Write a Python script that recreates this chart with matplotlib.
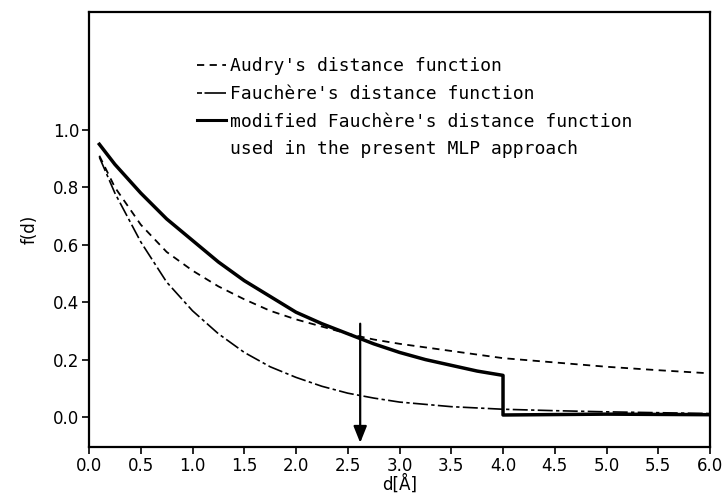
import numpy as np
import matplotlib
matplotlib.use('Agg')
import matplotlib.pyplot as plt
from matplotlib.lines import Line2D

# distance values
d_audry = [0.1, 0.25, 0.5, 0.75, 1.0, 1.25, 1.5, 1.75, 2.0, 2.25, 2.5, 2.75, 3.0, 3.5, 4.0, 4.5, 5.0, 5.5, 6.0]
f_audry = [0.91, 0.80, 0.67, 0.575, 0.51, 0.455, 0.41, 0.37, 0.34, 0.315, 0.29, 0.27, 0.255, 0.23, 0.205, 0.19, 0.175, 0.163, 0.152]

d_fauchere = [0.1, 0.25, 0.5, 0.75, 1.0, 1.25, 1.5, 1.75, 2.0, 2.25, 2.5, 2.75, 3.0, 3.5, 4.0, 4.5, 5.0, 5.5, 6.0]
f_fauchere = [0.905, 0.78, 0.61, 0.47, 0.37, 0.29, 0.225, 0.175, 0.138, 0.107, 0.083, 0.066, 0.052, 0.036, 0.027, 0.022, 0.018, 0.015, 0.012]

d_modified = [0.1, 0.25, 0.5, 0.75, 1.0, 1.25, 1.5, 1.75, 2.0, 2.25, 2.5, 2.75, 3.0, 3.25, 3.5, 3.75, 4.0, 4.0, 5.0, 6.0]
f_modified = [0.95, 0.88, 0.78, 0.69, 0.615, 0.54, 0.475, 0.42, 0.365, 0.325, 0.29, 0.255, 0.225, 0.2, 0.18, 0.16, 0.145, 0.007, 0.01, 0.008]

arrow_d = 2.62
arrow_top = 0.325

labels = ["Audry's distance function",
          "Fauchère's distance function",
          "modified Fauchère's distance function",
          "used in the present MLP approach"]

plt.rcParams['font.family'] = ['DejaVu Sans']

fig = plt.figure(figsize=(7.26, 4.97), dpi=100)
ax = fig.add_axes([0.1226, 0.1006, 0.8554, 0.8754])

ax.plot(d_audry, f_audry, color='black', lw=1.3, dashes=(4, 3))
ax.plot(d_fauchere, f_fauchere, color='black', lw=1.2, dashes=(9, 2, 2, 2))
ax.plot(d_modified, f_modified, color='black', lw=2.5)

ax.annotate('', xy=(arrow_d, -0.09), xytext=(arrow_d, arrow_top),
            arrowprops=dict(arrowstyle='-|>,head_length=1.0,head_width=0.4',
                            color='black', lw=1.6, shrinkA=0, shrinkB=0))

ax.set_xlim(0, 6)
ax.set_ylim(-0.1045, 1.411)
ax.set_xticks(np.arange(0, 6.01, 0.5))
ax.set_yticks(np.arange(0, 1.01, 0.2))
ax.set_xticklabels([f'{v:.1f}' for v in np.arange(0, 6.01, 0.5)])
ax.set_yticklabels([f'{v:.1f}' for v in np.arange(0, 1.01, 0.2)])
ax.tick_params(direction='out', length=5, width=1.2, labelsize=12, pad=2)
for s in ax.spines.values():
    s.set_linewidth(1.6)

ax.set_xlabel('d[Å]', fontsize=12, labelpad=0)
ax.set_ylabel('f(d)', fontsize=12, labelpad=10)

handles = [Line2D([], [], color='black', lw=1.3, dashes=(4, 3)),
           Line2D([], [], color='black', lw=1.2, dashes=(3, 1.5, 12, 0)),
           Line2D([], [], color='black', lw=2.2),
           Line2D([], [], color='none')]
ax.legend(handles, labels, loc='upper left', bbox_to_anchor=(0.174, 0.896),
          frameon=False, prop={'family': 'DejaVu Sans Mono', 'size': 13},
          handlelength=1.6, handletextpad=0.2,
          labelspacing=0.54, borderpad=0, borderaxespad=0)

fig.savefig('out.png', dpi=100)
